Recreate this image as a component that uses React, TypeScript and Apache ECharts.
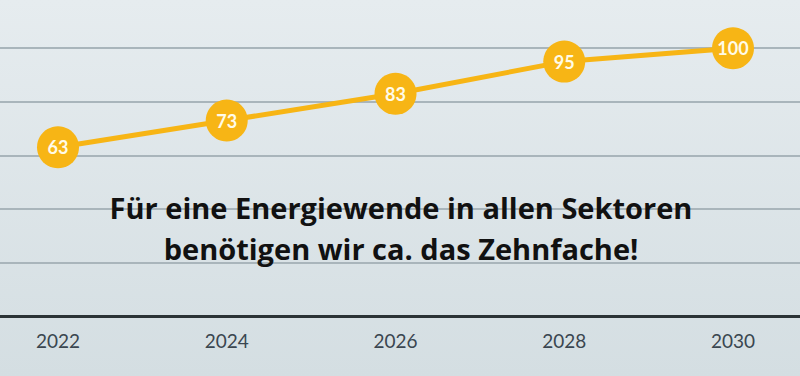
import React, { useEffect, useRef } from "react";
import * as echarts from "echarts";

const years = ["2022", "2024", "2026", "2028", "2030"];
const values = [63, 73, 83, 95, 100];
const message = ["Für eine Energiewende in allen Sektoren", "benötigen wir ca. das Zehnfache!"];

export default function App() {
  const ref = useRef<HTMLDivElement>(null);
  useEffect(() => {
    if (!ref.current) return;
    const chart = echarts.init(ref.current, null, { renderer: "svg" });
    chart.setOption({
      animation: false,
      backgroundColor: new echarts.graphic.LinearGradient(0, 0, 0, 1, [
        { offset: 0, color: "#e6ecef" },
        { offset: 1, color: "#d4dee2" },
      ]),
      grid: [
        { left: 58, right: 67, top: 0, bottom: 60 },
        { left: 0, right: 0, top: 0, bottom: 60 },
      ],
      xAxis: [
        {
          type: "category",
          gridIndex: 0,
          data: years,
          boundaryGap: false,
          axisLine: { show: false },
          axisTick: { show: false },
          splitLine: { show: false },
          axisLabel: {
            color: "#3a4650",
            fontFamily: "Lato",
            fontSize: 19,
            margin: 15,
          },
        },
        {
          type: "value",
          gridIndex: 1,
          min: 0,
          max: 1,
          axisLine: { show: true, lineStyle: { color: "#2b3336", width: 3 } },
          axisTick: { show: false },
          axisLabel: { show: false },
          splitLine: { show: false },
        },
      ],
      yAxis: [
        {
          type: "value",
          gridIndex: 0,
          min: 0,
          max: 118,
          show: false,
          splitLine: { show: false },
        },
        {
          type: "value",
          gridIndex: 1,
          min: 0,
          max: 118,
          interval: 20,
          axisLabel: { show: false },
          axisLine: { show: false },
          axisTick: { show: false },
          splitLine: {
            show: true,
            showMaxLine: false,
            lineStyle: { color: "#a9b5bb", width: 2 },
          },
        },
      ],
      graphic: [
        {
          type: "text",
          x: 401,
          y: 187,
          z: 10,
          style: {
            text: message.join("\n"),
            align: "center",
            verticalAlign: "top",
            fontFamily: "Open Sans",
            fontWeight: "bold",
            fontSize: 29,
            lineHeight: 41,
            fill: "#111111",
          },
        },
      ],
      series: [
        {
          type: "line",
          xAxisIndex: 0,
          yAxisIndex: 0,
          data: values,
          symbol: "circle",
          symbolSize: 42,
          lineStyle: { color: "#f7b515", width: 5 },
          itemStyle: { color: "#f7b515" },
          label: {
            show: true,
            position: "inside",
            color: "#fffbe8",
            fontFamily: "Lato",
            fontWeight: "bold",
            fontSize: 18,
          },
          z: 5,
        },
      ],
    });
    return () => chart.dispose();
  }, []);
  return <div ref={ref} style={{ width: 800, height: 376, position: "absolute", left: 0, top: 0 }} />;
}
